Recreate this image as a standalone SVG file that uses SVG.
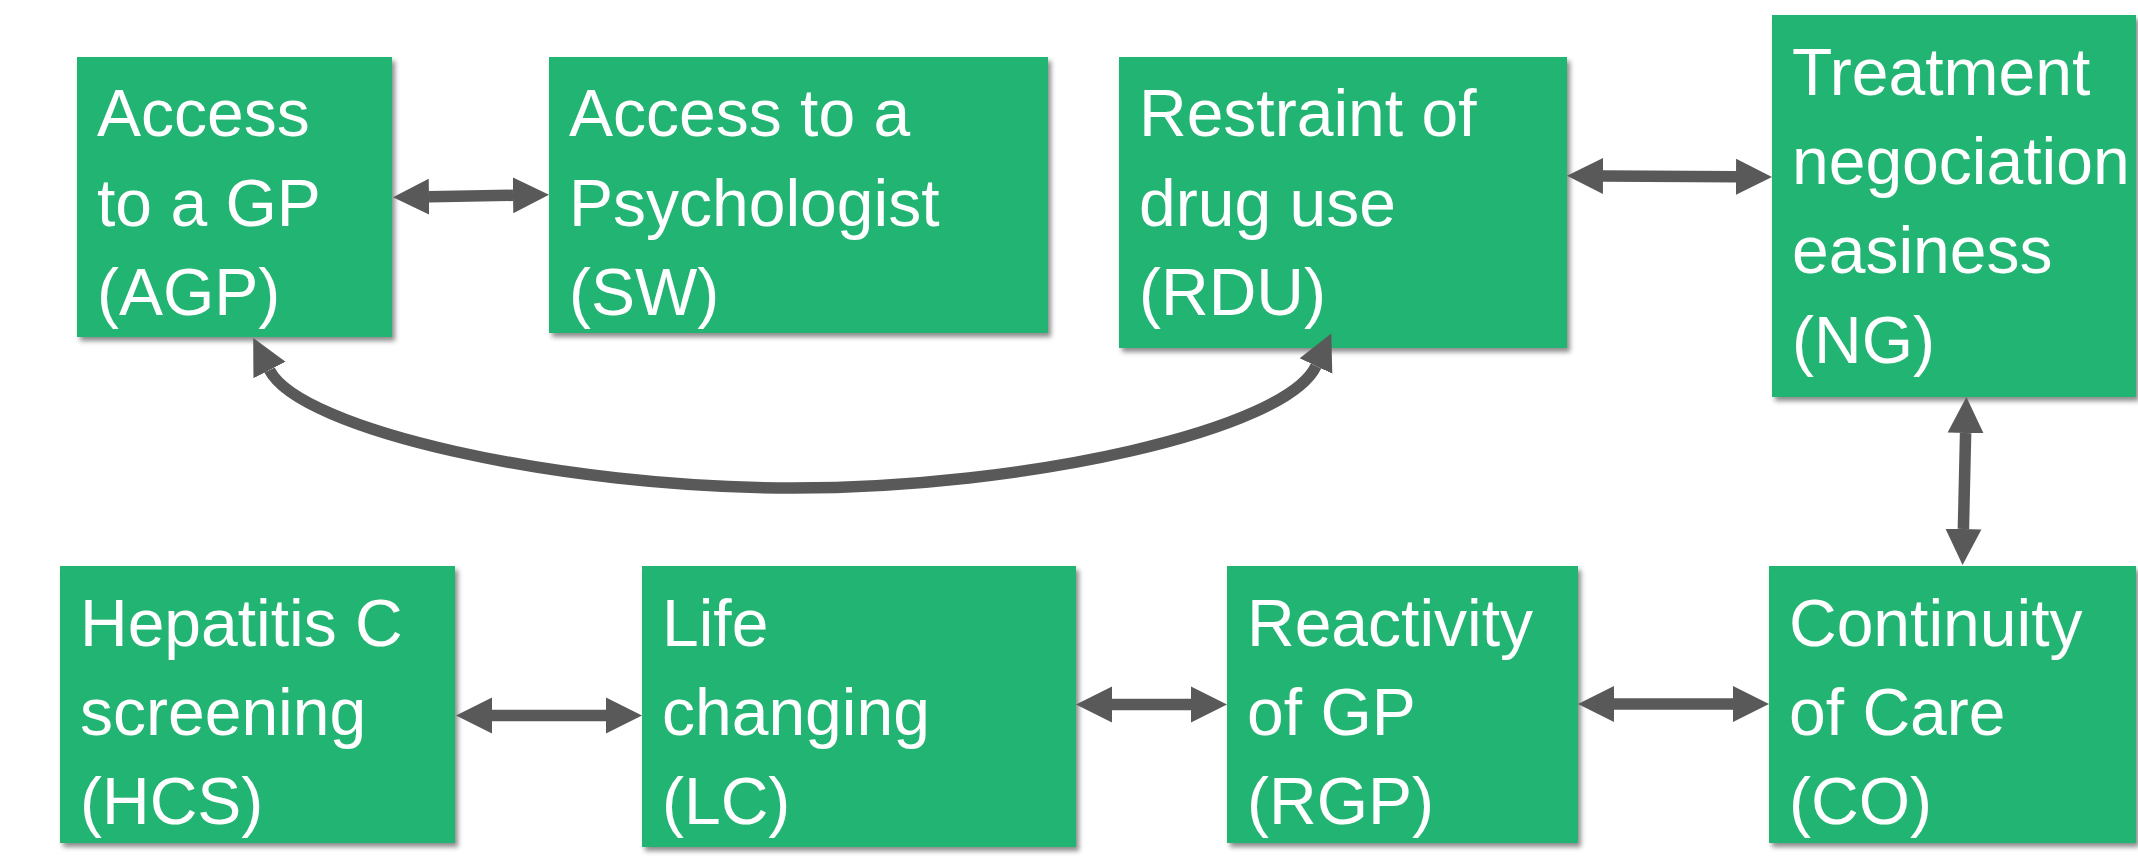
<svg xmlns="http://www.w3.org/2000/svg" width="2138" height="864" viewBox="0 0 2138 864">
<style>
  .box { fill: #21B473; filter: url(#shadow); }
  .lbl { fill: #FFFFFF; font-family: "Liberation Sans", Arial, sans-serif; font-size: 66px; }
  .con { fill: none; stroke: #595959; stroke-width: 11.5; marker-start: url(#head); marker-end: url(#head); }
</style>
<defs>
  <filter id="shadow" x="-10%" y="-10%" width="125%" height="125%">
    <feDropShadow dx="3" dy="4" stdDeviation="2.5" flood-color="#000000" flood-opacity="0.45"/>
  </filter>
  <marker id="head" markerUnits="userSpaceOnUse" markerWidth="40" markerHeight="40" viewBox="0 -20 40 40" refX="0" refY="0" orient="auto-start-reverse">
    <path d="M0,-18 L36,0 L0,18 Z" fill="#595959"/>
  </marker>
</defs>
<rect width="2138" height="864" fill="#FFFFFF"/>

<g id="AGP">
  <rect class="box" x="77" y="57" width="315" height="280"/>
  <text class="lbl"><tspan x="97" y="136">Access</tspan><tspan x="97" y="226">to a GP</tspan><tspan x="97" y="315">(AGP)</tspan></text>
</g>
<g id="SW">
  <rect class="box" x="549" y="57" width="499" height="276"/>
  <text class="lbl"><tspan x="569" y="136">Access to a</tspan><tspan x="569" y="226">Psychologist</tspan><tspan x="569" y="315">(SW)</tspan></text>
</g>
<g id="RDU">
  <rect class="box" x="1119" y="57" width="448" height="291"/>
  <text class="lbl"><tspan x="1139" y="136">Restraint of</tspan><tspan x="1139" y="226">drug use</tspan><tspan x="1139" y="315">(RDU)</tspan></text>
</g>
<g id="NG">
  <rect class="box" x="1772" y="15" width="364" height="382"/>
  <text class="lbl"><tspan x="1792" y="95">Treatment</tspan><tspan x="1792" y="184">negociation</tspan><tspan x="1792" y="273">easiness</tspan><tspan x="1792" y="363">(NG)</tspan></text>
</g>
<g id="HCS">
  <rect class="box" x="60" y="566" width="395" height="277"/>
  <text class="lbl"><tspan x="80" y="646">Hepatitis C</tspan><tspan x="80" y="735">screening</tspan><tspan x="80" y="824">(HCS)</tspan></text>
</g>
<g id="LC">
  <rect class="box" x="642" y="566" width="434" height="281"/>
  <text class="lbl"><tspan x="662" y="646">Life</tspan><tspan x="662" y="735">changing</tspan><tspan x="662" y="824">(LC)</tspan></text>
</g>
<g id="RGP">
  <rect class="box" x="1227" y="566" width="351" height="277"/>
  <text class="lbl"><tspan x="1247" y="646">Reactivity</tspan><tspan x="1247" y="735">of GP</tspan><tspan x="1247" y="824">(RGP)</tspan></text>
</g>
<g id="CO">
  <rect class="box" x="1769" y="566" width="367" height="277"/>
  <text class="lbl"><tspan x="1789" y="646">Continuity</tspan><tspan x="1789" y="735">of Care</tspan><tspan x="1789" y="824">(CO)</tspan></text>
</g>

<g id="connectors">
  <path class="con" d="M429,196.7 L513,195.3"/>
  <path class="con" d="M1603,176 L1736,176.7"/>
  <path class="con" d="M1965.6,433 L1963.4,529"/>
  <path class="con" d="M492,715.5 L606,715.5"/>
  <path class="con" d="M1112,704.5 L1191,704.5"/>
  <path class="con" d="M1614,704 L1733,704"/>
  <path class="con" d="M269.5,370 C300,430 560,488 793,488 C1026,488 1286,430 1316,366" stroke-width="11"/>
</g>
</svg>
